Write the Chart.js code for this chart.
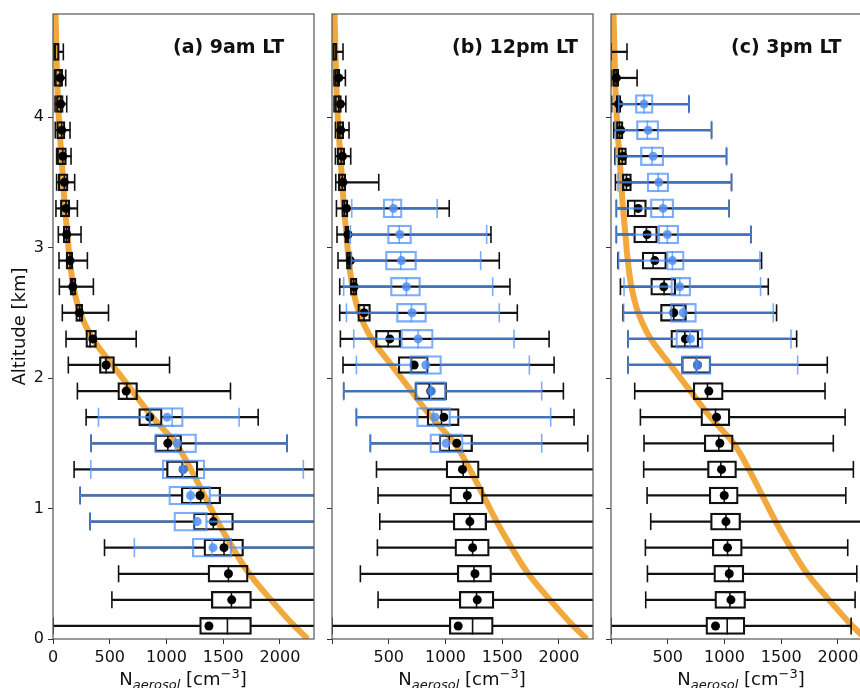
<!DOCTYPE html>
<html>
<head>
<meta charset="utf-8">
<script src="https://cdn.jsdelivr.net/npm/chart.js@4.4.1/dist/chart.umd.min.js"></script>
<style>
  html, body { margin: 0; padding: 0; background: #fff; }
  body { width: 860px; height: 688px; overflow: hidden; position: relative; font-family: "DejaVu Sans", sans-serif; color: #111; }
  canvas { position: absolute; top: 0; }
  .panel-title { position: absolute; top: 37px; font-weight: bold; font-size: 19px; line-height: 19px; white-space: nowrap; }
  .xlabel { position: absolute; top: 670px; font-size: 18px; line-height: 18px; white-space: nowrap; transform: translateX(-50%); }
  .xlabel .sub { font-style: italic; font-size: 13px; position: relative; top: 4px; }
  .xlabel .sup { font-size: 13px; position: relative; top: -7px; }
</style>
</head>
<body>
<canvas id="am9" width="320" height="688" style="left:0"></canvas>
<canvas id="pm12" width="280" height="688" style="left:320px"></canvas>
<canvas id="pm3" width="280" height="688" style="left:600px"></canvas>

<div class="panel-title" style="left:173px">(a) 9am LT</div>
<div class="panel-title" style="left:452px">(b) 12pm LT</div>
<div class="panel-title" style="left:731px">(c) 3pm LT</div>

<div class="xlabel" style="left:183px">N<span class="sub">aerosol</span> [cm<span class="sup">&minus;3</span>]</div>
<div class="xlabel" style="left:462px">N<span class="sub">aerosol</span> [cm<span class="sup">&minus;3</span>]</div>
<div class="xlabel" style="left:741px">N<span class="sub">aerosol</span> [cm<span class="sup">&minus;3</span>]</div>

<script>
// altitude bins (km), bottom to top
const altitudes = [0.1, 0.3, 0.5, 0.7, 0.9, 1.1, 1.3, 1.5, 1.7, 1.9, 2.1, 2.3,
                   2.5, 2.7, 2.9, 3.1, 3.3, 3.5, 3.7, 3.9, 4.1, 4.3, 4.5];

const xTicks = [0, 500, 1000, 1500, 2000];
const yTicks = [0, 1, 2, 3, 4];

// each row: [low whisker, q1, median, q3, high whisker, mean]
const blackAm9 = [
  [0, 1292, 1537, 1749, 2400, 1374],
  [519, 1395, 1572, 1749, 2400, 1575],
  [578, 1366, 1546, 1720, 2400, 1546],
  [454, 1330, 1507, 1679, 2400, 1507],
  [327, 1236, 1413, 1590, 2400, 1413],
  [239, 1130, 1301, 1478, 2400, 1295],
  [186, 1000, 1139, 1277, 2400, 1147],
  [336, 897, 1012, 1133, 2062, 1012],
  [292, 755, 852, 962, 1808, 852],
  [215, 571, 651, 745, 1564, 645],
  [135, 409, 468, 542, 1027, 468],
  [115, 289, 327, 383, 733, 351],
  [82, 200, 235, 262, 489, 233],
  [56, 150, 174, 203, 356, 174],
  [53, 115, 150, 174, 303, 150],
  [47, 91, 121, 150, 247, 121],
  [26, 65, 115, 147, 215, 115],
  [32, 47, 100, 133, 191, 100],
  [32, 35, 86, 118, 159, 86],
  [20, 32, 77, 106, 150, 77],
  [18, 30, 68, 90, 121, 68],
  [12, 15, 62, 85, 112, 62],
  [0, 3, 20, 55, 91, null]
];

const blueAm9 = [
  null, null, null,
  [717, 1227, 1400, 1575, 2400, 1410],
  [327, 1065, 1240, 1360, 2400, 1271],
  [239, 1020, 1212, 1389, 2400, 1212],
  [333, 962, 1147, 1339, 2206, 1147],
  [336, 897, 1080, 1265, 2062, 1094],
  [401, 844, 1050, 1148, 1640, 1006],
  null, null, null, null, null, null, null, null, null, null, null, null, null, null
];

const blackPm12 = [
  [0, 1033, 1239, 1421, 2400, 1112],
  [406, 1121, 1274, 1427, 2400, 1280],
  [250, 1103, 1251, 1406, 2400, 1260],
  [400, 1083, 1239, 1386, 2400, 1239],
  [421, 1068, 1215, 1363, 2400, 1215],
  [406, 1039, 1186, 1333, 2400, 1192],
  [392, 1005, 1156, 1297, 2400, 1150],
  [338, 944, 1033, 1239, 2254, 1100],
  [215, 838, 965, 1121, 2133, 986],
  [103, 730, 857, 1010, 2039, 870],
  [97, 583, 700, 848, 1957, 724],
  [74, 383, 495, 606, 1913, 509],
  [68, 227, 283, 339, 1633, 283],
  [68, 162, 192, 221, 1568, 195],
  [53, 127, 150, 171, 1474, 162],
  [44, 112, 130, 150, 1401, 141],
  [39, 86, 110, 141, 1033, 127],
  [33, 56, 90, 121, 412, 97],
  [30, 44, 80, 112, 165, 92],
  [30, 44, 70, 103, 150, 77],
  [18, 24, 60, 83, 122, 74],
  [18, 24, 50, 68, 118, 59],
  [0, 0, 15, 44, 97, null]
];

const bluePm12 = [
  null, null, null, null, null, null, null,
  [338, 862, 951, 1156, 1848, 1006],
  [215, 745, 892, 1045, 1927, 907],
  [103, 735, 870, 1005, 1848, 877],
  [215, 686, 833, 965, 1739, 827],
  [192, 606, 759, 892, 1604, 759],
  [127, 568, 700, 833, 1474, 706],
  [103, 515, 656, 780, 1416, 656],
  [171, 471, 606, 745, 1310, 612],
  [162, 489, 592, 701, 1363, 598],
  [174, 450, 533, 618, 927, 542],
  null, null, null, null, null, null
];

const blackPm3 = [
  [0, 836, 1024, 1180, 2116, 921],
  [306, 915, 1048, 1186, 2151, 1057],
  [321, 906, 1039, 1171, 2166, 1042],
  [303, 892, 1027, 1157, 2086, 1027],
  [350, 877, 1013, 1142, 2400, 1013],
  [318, 865, 998, 1121, 2069, 998],
  [288, 850, 968, 1106, 2136, 974],
  [291, 821, 950, 1077, 1959, 959],
  [259, 792, 921, 1048, 2063, 930],
  [209, 724, 850, 989, 1886, 862],
  [150, 621, 753, 880, 1906, 762],
  [150, 527, 651, 774, 1636, 656],
  [106, 436, 553, 665, 1459, 553],
  [83, 350, 468, 571, 1386, 465],
  [62, 274, 371, 489, 1327, 386],
  [47, 200, 312, 409, 1233, 318],
  [47, 141, 209, 312, 1041, 239],
  [39, 100, 136, 180, 1062, 145],
  [34, 62, 100, 136, 1018, 106],
  [24, 47, 75, 106, 886, 86],
  [6, 47, 65, 86, 686, 68],
  [6, 18, 45, 68, 230, 47],
  [0, 0, 0, 5, 141, null]
];

const bluePm3 = [
  null, null, null, null, null, null, null, null, null, null,
  [150, 621, 753, 880, 1645, 762],
  [150, 571, 695, 812, 1586, 700],
  [112, 524, 636, 753, 1430, 636],
  [115, 527, 606, 703, 1318, 606],
  [68, 489, 541, 645, 1312, 541],
  [47, 415, 497, 597, 1233, 497],
  [47, 347, 459, 553, 1041, 459],
  [62, 318, 415, 509, 1062, 421],
  [39, 259, 362, 465, 1018, 371],
  [39, 224, 321, 421, 886, 327],
  [68, 215, 291, 371, 686, 291],
  null, null
];

// reference profile
const profileAlt = [0, 0.1, 0.3, 0.5, 0.7, 0.9, 1.1, 1.3, 1.5, 1.7, 1.9, 2.1, 2.3, 2.5, 2.7, 2.9, 3.1, 3.3, 3.5, 4.1, 4.8];
const profileN = [2245, 2127, 1921, 1730, 1583, 1451, 1333, 1215, 1080, 877, 700, 524, 350, 240, 180, 148, 127, 106, 90, 45, 22];

const BLACK = {line: '#111', box: '#111', dot: '#000', thick: 17, order: 50};
const BLUE = {line: 'rgba(80,145,245,0.75)', box: 'rgba(80,145,245,0.75)', dot: 'rgba(80,145,245,0.85)', thick: 19, order: 10};

function boxDatasets(rows, c) {
  const pts = [];
  rows.forEach((r, i) => {
    if (r) pts.push({y: altitudes[i], lo: r[0], q1: r[1], med: r[2], q3: r[3], hi: r[4], mean: r[5]});
  });
  const whisker = {type: 'bar', backgroundColor: c.line, borderWidth: 0, barThickness: 1.6, grouped: false, clip: 0};
  const tick = {type: 'scatter', pointStyle: 'line', pointRotation: 90, pointBorderColor: c.box,
                pointBorderWidth: 1.6, pointRadius: c.thick / 2, pointHoverRadius: c.thick / 2, clip: 0};
  return [
    Object.assign({}, whisker, {data: pts.map(p => ({x: [p.lo, p.q1], y: p.y})), order: c.order + 5}),
    Object.assign({}, whisker, {data: pts.map(p => ({x: [p.q3, p.hi], y: p.y})), order: c.order + 5}),
    {type: 'bar', data: pts.map(p => ({x: [p.q1, p.q3], y: p.y})), backgroundColor: 'rgba(0,0,0,0)',
     borderColor: c.box, borderWidth: 1.6, borderSkipped: false, barThickness: c.thick, grouped: false,
     clip: 0, order: c.order + 4},
    Object.assign({}, tick, {data: pts.flatMap(p => [{x: p.lo, y: p.y}, {x: p.hi, y: p.y}]), order: c.order + 3}),
    Object.assign({}, tick, {data: pts.map(p => ({x: p.med, y: p.y})), order: c.order + 2}),
    {type: 'scatter', data: pts.filter(p => p.mean !== null).map(p => ({x: p.mean, y: p.y})),
     pointStyle: 'circle', pointRadius: 4.5, pointHoverRadius: 4.5, pointBackgroundColor: c.dot,
     pointBorderWidth: 0, clip: 0, order: c.order + 1}
  ];
}

const frame = {
  id: 'frame',
  afterDatasetsDraw(chart) {
    const {ctx, chartArea: a} = chart;
    ctx.save();
    ctx.strokeStyle = '#555';
    ctx.lineWidth = 1.2;
    ctx.strokeRect(a.left, a.top, a.width, a.height);
    ctx.restore();
  }
};

function makeChart(id, black, blue, o) {
  const profile = {
    type: 'line',
    data: profileAlt.map((h, i) => ({x: profileN[i], y: h})),
    borderColor: 'rgba(240,160,40,0.9)',
    borderWidth: 6,
    pointRadius: 0,
    cubicInterpolationMode: 'monotone',
    clip: 0,
    order: 100
  };
  return new Chart(document.getElementById(id), {
    type: 'bar',
    data: {datasets: [profile, ...boxDatasets(black, BLACK), ...boxDatasets(blue, BLUE)]},
    options: {
      indexAxis: 'y',
      responsive: false,
      animation: false,
      events: [],
      layout: {autoPadding: false, padding: {top: 14, right: o.padRight, left: 0, bottom: 0}},
      plugins: {legend: {display: false}, tooltip: {enabled: false}},
      scales: {
        x: {
          type: 'linear', min: 0, max: 2300, offset: false,
          grid: {drawOnChartArea: false, drawTicks: true, tickLength: 5, tickColor: '#333', offset: false},
          border: {display: false},
          ticks: {
            font: {family: 'DejaVu Sans', size: 16}, color: '#111', padding: 4, maxRotation: 0, autoSkip: false,
            callback: v => (v === 0 && !o.showZero) ? '' : String(v)
          },
          afterBuildTicks: s => { s.ticks = xTicks.map(v => ({value: v})); },
          afterFit: s => { s.height = 49; s.paddingLeft = 0; s.paddingRight = 0; }
        },
        y: {
          type: 'linear', min: 0, max: 4.79, offset: false,
          grid: {drawOnChartArea: false, drawTicks: true, tickLength: 5, tickColor: '#333', offset: false},
          border: {display: false},
          ticks: {display: o.yLabels, font: {family: 'DejaVu Sans', size: 16}, color: '#111', padding: 4},
          title: {display: o.yLabels, text: 'Altitude [km]', font: {family: 'DejaVu Sans', size: 18},
                  color: '#111', padding: {top: 10, bottom: 0}},
          afterBuildTicks: s => { s.ticks = yTicks.map(v => ({value: v})); },
          afterFit: s => { s.width = o.yWidth; s.paddingTop = 0; s.paddingBottom = 0; }
        }
      }
    },
    plugins: [frame]
  });
}

makeChart('am9', blackAm9, blueAm9, {yWidth: 53, padRight: 6, showZero: true, yLabels: true});
makeChart('pm12', blackPm12, bluePm12, {yWidth: 12, padRight: 7, showZero: false, yLabels: false});
makeChart('pm3', blackPm3, bluePm3, {yWidth: 11, padRight: 8, showZero: false, yLabels: false});
</script>
</body>
</html>
